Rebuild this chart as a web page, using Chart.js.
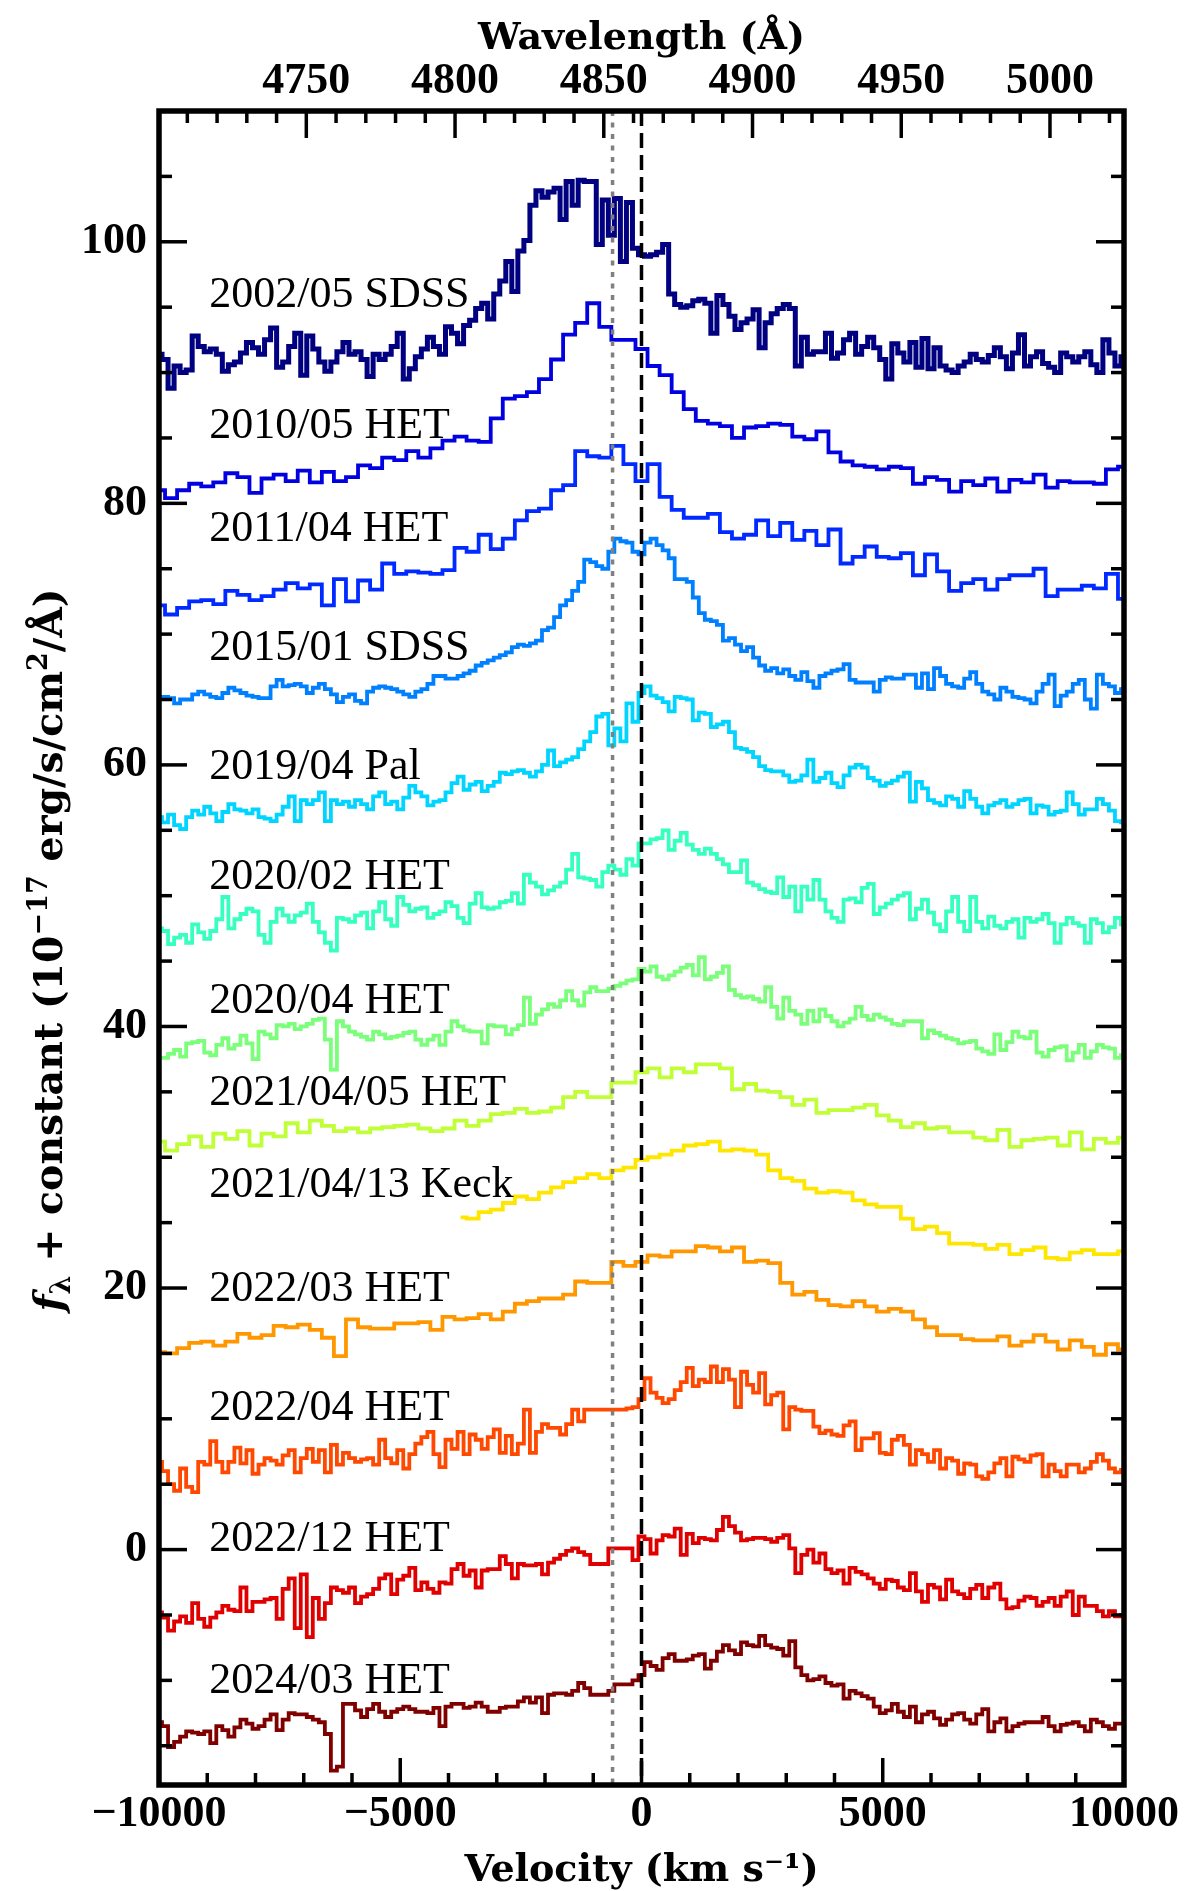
<!DOCTYPE html>
<html>
<head>
<meta charset="utf-8">
<script src="https://cdn.jsdelivr.net/npm/chart.js@4.4.0/dist/chart.umd.min.js"></script>
<style>
  html, body { margin: 0; padding: 0; background: #fff; }
  canvas { display: block; }
</style>
</head>
<body>
<canvas id="hbeta" width="1190" height="1891"></canvas>
<script>
// velocity bins (km/s): 250 km/s for the smoother spectra
const velocity = [
  -10000, -9750, -9500, -9250, -9000, -8750, -8500, -8250, -8000, -7750,
  -7500, -7250, -7000, -6750, -6500, -6250, -6000, -5750, -5500, -5250,
  -5000, -4750, -4500, -4250, -4000, -3750, -3500, -3250, -3000, -2750,
  -2500, -2250, -2000, -1750, -1500, -1250, -1000, -750, -500, -250,
  0, 250, 500, 750, 1000, 1250, 1500, 1750, 2000, 2250,
  2500, 2750, 3000, 3250, 3500, 3750, 4000, 4250, 4500, 4750,
  5000, 5250, 5500, 5750, 6000, 6250, 6500, 6750, 7000, 7250,
  7500, 7750, 8000, 8250, 8500, 8750, 9000, 9250, 9500, 9750, 10000
];
// 125 km/s bins for the noisier spectra
const velocityFine = [
  -10000, -9875, -9750, -9625, -9500, -9375, -9250, -9125, -9000, -8875,
  -8750, -8625, -8500, -8375, -8250, -8125, -8000, -7875, -7750, -7625,
  -7500, -7375, -7250, -7125, -7000, -6875, -6750, -6625, -6500, -6375,
  -6250, -6125, -6000, -5875, -5750, -5625, -5500, -5375, -5250, -5125,
  -5000, -4875, -4750, -4625, -4500, -4375, -4250, -4125, -4000, -3875,
  -3750, -3625, -3500, -3375, -3250, -3125, -3000, -2875, -2750, -2625,
  -2500, -2375, -2250, -2125, -2000, -1875, -1750, -1625, -1500, -1375,
  -1250, -1125, -1000, -875, -750, -625, -500, -375, -250, -125,
  0, 125, 250, 375, 500, 625, 750, 875, 1000, 1125,
  1250, 1375, 1500, 1625, 1750, 1875, 2000, 2125, 2250, 2375,
  2500, 2625, 2750, 2875, 3000, 3125, 3250, 3375, 3500, 3625,
  3750, 3875, 4000, 4125, 4250, 4375, 4500, 4625, 4750, 4875,
  5000, 5125, 5250, 5375, 5500, 5625, 5750, 5875, 6000, 6125,
  6250, 6375, 6500, 6625, 6750, 6875, 7000, 7125, 7250, 7375,
  7500, 7625, 7750, 7875, 8000, 8125, 8250, 8375, 8500, 8625,
  8750, 8875, 9000, 9125, 9250, 9375, 9500, 9625, 9750, 9875, 10000
];

const epochs = [
  '2002/05 SDSS', '2010/05 HET', '2011/04 HET', '2015/01 SDSS', '2019/04 Pal',
  '2020/02 HET', '2020/04 HET', '2021/04/05 HET', '2021/04/13 Keck',
  '2022/03 HET', '2022/04 HET', '2022/12 HET', '2024/03 HET'
];

// f_lambda + constant, one value per bin
const s2002_05 = [
  91.4, 91.0, 88.8, 90.5, 90.0, 90.2, 92.8, 92.0, 91.6, 91.8,
  91.4, 90.1, 90.6, 90.8, 91.5, 92.3, 91.9, 91.4, 92.5, 93.4,
  90.4, 90.8, 92.0, 93.0, 89.8, 92.8, 91.8, 90.8, 90.1, 90.8,
  91.6, 92.3, 91.4, 91.6, 91.0, 89.7, 91.4, 91.0, 91.4, 92.0,
  93.0, 89.5, 90.3, 91.2, 91.8, 92.7, 92.0, 91.4, 93.5, 93.0,
  92.2, 93.6, 94.0, 94.9, 95.3, 94.1, 96.0, 97.0, 98.5, 96.2,
  99.3, 100.1, 102.8, 103.9, 103.4, 103.8, 104.1, 101.7, 104.6, 102.8,
  104.7, 104.6, 104.6, 99.8, 103.2, 100.5, 103.3, 98.5, 103.0, 99.5,
  99.0, 98.9, 99.0, 99.2, 99.8, 96.0, 95.2, 95.0, 95.1, 95.5, 95.6,
  95.3, 93.0, 95.9, 95.2, 94.3, 93.3, 93.8, 94.1, 94.8, 91.9,
  93.8, 94.5, 94.9, 95.2, 94.9, 90.5, 92.7, 91.4, 91.6, 91.6,
  93.0, 91.1, 91.5, 92.5, 93.0, 91.4, 92.0, 92.7, 91.9, 91.0,
  89.5, 92.2, 91.5, 90.8, 92.3, 90.4, 92.6, 90.3, 91.9, 90.5,
  90.2, 90.0, 90.5, 90.8, 91.4, 91.0, 90.8, 91.3, 91.9, 91.2,
  90.3, 91.5, 92.9, 90.5, 91.2, 91.6, 90.7, 90.4, 90.0, 91.5,
  91.2, 90.8, 91.2, 91.6, 90.6, 90.0, 92.5, 91.5, 90.5, 91.2
];
const s2010_05 = [
  81.0, 80.4, 81.0, 81.5, 81.3, 81.6, 82.3, 82.0, 80.8, 81.9,
  82.2, 81.7, 82.5, 81.6, 82.4, 81.7, 82.0, 82.9, 82.7, 83.5,
  83.3, 84.0, 83.5, 84.2, 84.8, 85.1, 84.8, 84.7, 86.5, 88.0,
  88.2, 88.5, 89.5, 91.0, 92.9, 93.8, 95.3, 93.5, 92.5, 92.5,
  91.8, 90.5, 89.8, 88.5, 87.2, 86.3, 86.1, 85.9, 85.0, 85.8,
  85.9, 86.1, 86.0, 85.1, 84.9, 85.5, 83.9, 83.2, 82.9, 82.8,
  82.6, 82.8, 82.7, 81.5, 82.0, 81.8, 80.9, 81.7, 81.4, 81.9,
  80.9, 81.8, 81.6, 82.2, 81.2, 81.7, 81.6, 81.6, 81.5, 82.6, 82.8
];
const s2011_04 = [
  72.2, 71.5, 72.0, 72.5, 72.6, 72.3, 73.3, 73.0, 72.6, 72.9,
  73.4, 73.9, 73.5, 73.8, 72.2, 74.2, 72.5, 74.1, 73.4, 75.4,
  74.6, 74.8, 74.7, 74.6, 74.9, 76.6, 76.3, 77.6, 76.5, 77.3,
  78.7, 79.4, 79.6, 81.0, 81.4, 84.0, 83.6, 83.5, 84.4, 83.0,
  81.7, 83.0, 80.5, 79.5, 78.9, 78.9, 79.2, 77.8, 77.3, 77.6,
  78.7, 77.5, 78.5, 77.2, 77.9, 76.8, 78.0, 75.4, 75.9, 76.7,
  75.9, 75.8, 76.2, 74.5, 76.1, 74.8, 73.3, 73.9, 74.2, 73.4,
  74.2, 74.5, 74.5, 75.0, 72.9, 73.4, 73.4, 73.7, 73.5, 74.6, 72.7
];
const s2015_01 = [
  65.1, 65.2, 65.1, 64.7, 65.0, 65.0, 65.4, 65.6, 65.4, 65.2,
  65.1, 65.5, 65.9, 65.7, 65.5, 65.3, 65.2, 65.1, 65.1, 66.0,
  66.5, 66.0, 66.1, 66.2, 66.0, 65.5, 65.9, 66.2, 65.8, 65.4,
  64.8, 65.2, 65.4, 64.9, 64.7, 65.6, 65.9, 66.0, 65.9, 65.8,
  65.6, 65.4, 65.2, 65.6, 65.8, 66.2, 66.8, 66.8, 66.6, 66.6,
  66.8, 67.0, 67.2, 67.6, 67.8, 68.0, 68.2, 68.4, 68.6, 69.0,
  69.2, 69.1, 69.3, 69.5, 70.3, 70.5, 71.3, 72.2, 72.6, 73.3,
  74.0, 75.7, 75.5, 75.2, 75.0, 76.3, 77.3, 77.1, 77.0, 76.3,
  76.1, 77.0, 77.3, 76.8, 76.4, 75.8, 74.2, 74.2, 74.0, 72.8, 71.6,
  71.1, 71.0, 70.7, 69.5, 69.7, 69.2, 68.7, 69.0, 68.2, 67.6,
  67.2, 67.4, 67.0, 67.3, 66.8, 66.5, 67.1, 66.4, 65.9, 66.8,
  67.0, 67.2, 67.3, 67.7, 66.5, 66.3, 66.3, 66.3, 65.6, 66.5,
  66.7, 66.6, 66.6, 66.9, 66.9, 65.9, 67.0, 65.8, 67.4, 66.8,
  66.2, 66.0, 65.9, 66.6, 67.1, 66.2, 65.6, 65.4, 65.0, 65.9,
  65.6, 65.2, 65.1, 65.0, 64.7, 65.6, 66.2, 66.9, 64.5, 65.3,
  65.6, 66.2, 66.5, 65.0, 64.3, 66.9, 66.2, 66.0, 65.5, 65.8
];
const s2019_04 = [
  56.0, 55.6, 56.2, 55.4, 55.1, 56.0, 56.5, 56.2, 56.8, 56.3,
  55.7, 56.4, 57.0, 56.6, 56.5, 56.3, 56.6, 56.0, 55.9, 55.7,
  56.2, 56.8, 57.6, 55.7, 57.3, 57.0, 57.3, 57.9, 55.7, 57.3,
  57.0, 57.2, 56.8, 57.3, 57.0, 56.6, 57.6, 57.9, 57.0, 57.2,
  56.6, 57.5, 58.4, 57.9, 57.6, 56.9, 57.2, 57.3, 57.9, 58.6,
  59.1, 58.1, 58.5, 58.7, 58.0, 58.4, 58.7, 59.4, 59.3, 59.5,
  59.6, 59.4, 59.1, 59.5, 60.0, 61.1, 59.9, 60.2, 60.4, 60.6,
  61.2, 61.8, 62.5, 63.7, 63.9, 61.5, 62.8, 61.8, 64.7, 63.3,
  65.5, 66.0, 65.3, 65.1, 64.8, 64.1, 65.2, 65.1, 65.0, 63.4, 64.0,
  63.9, 62.9, 63.1, 63.3, 62.5, 61.3, 61.2, 61.0, 60.6, 59.9,
  59.6, 59.5, 59.5, 59.2, 58.7, 58.8, 59.2, 60.4, 58.7, 59.0,
  59.4, 58.6, 58.3, 59.2, 59.8, 60.0, 59.8, 59.0, 58.8, 58.4,
  58.6, 58.8, 59.1, 59.4, 57.2, 58.7, 58.2, 57.3, 57.1, 56.9,
  57.6, 57.4, 56.8, 58.0, 57.4, 56.8, 56.3, 56.9, 57.1, 57.3,
  56.8, 57.0, 57.3, 57.4, 56.3, 56.9, 56.8, 56.2, 56.4, 56.5,
  57.9, 57.0, 56.2, 56.6, 56.6, 57.4, 57.0, 56.5, 55.7, 55.6
];
const s2020_02 = [
  47.5, 47.3, 46.3, 46.8, 47.0, 46.4, 47.8, 47.2, 46.7, 47.3,
  48.2, 49.9, 47.5, 48.2, 48.6, 49.0, 48.8, 47.0, 46.4, 48.0,
  49.0, 48.5, 48.0, 48.5, 48.7, 49.4, 48.0, 47.2, 46.4, 45.8,
  48.3, 48.2, 48.0, 48.5, 48.7, 47.5, 48.8, 49.5, 48.2, 47.7,
  49.9, 49.3, 48.8, 49.0, 49.1, 48.3, 48.6, 48.8, 49.5, 49.2,
  48.3, 47.9, 49.4, 50.2, 49.1, 49.0, 49.1, 49.5, 49.6, 50.2,
  49.4, 51.6, 51.0, 50.7, 50.1, 50.4, 50.7, 51.0, 52.0, 53.2,
  51.4, 51.3, 51.2, 50.7, 51.8, 52.3, 52.0, 51.6, 52.8, 52.3,
  54.0, 54.0, 54.3, 54.4, 55.0, 53.5, 54.2, 54.8, 53.9, 53.5, 53.2,
  53.6, 53.2, 52.8, 52.4, 51.8, 51.8, 52.7, 51.0, 50.8, 50.5,
  50.3, 50.2, 51.4, 49.9, 50.7, 48.8, 50.7, 49.7, 51.2, 49.7,
  48.8, 48.3, 48.0, 49.7, 49.8, 49.5, 50.6, 50.9, 48.6, 49.1,
  49.4, 49.7, 50.0, 50.2, 48.2, 49.0, 49.7, 48.7, 47.8, 47.3,
  48.8, 49.9, 48.0, 47.3, 49.9, 48.0, 47.5, 48.4, 47.7, 47.5,
  48.0, 48.2, 46.8, 48.3, 48.0, 48.2, 48.6, 47.9, 46.4, 47.8,
  48.3, 47.9, 47.7, 46.4, 48.2, 47.9, 47.2, 47.6, 48.3, 47.8
];
const s2020_04 = [
  37.6, 37.6, 37.9, 38.2, 37.7, 38.7, 38.8, 38.9, 38.0, 37.8,
  38.6, 39.1, 38.3, 38.6, 39.3, 38.7, 37.5, 39.6, 39.4, 39.1,
  40.1, 40.0, 40.2, 39.8, 40.0, 40.2, 40.5, 40.6, 39.0, 36.7,
  40.4, 40.0, 39.6, 39.4, 39.2, 39.0, 39.6, 39.4, 39.1, 39.2,
  39.3, 39.5, 39.6, 39.0, 38.6, 39.0, 39.3, 38.6, 39.6, 40.4,
  40.0, 39.7, 39.6, 39.6, 38.7, 40.1, 40.0, 40.0, 39.4, 39.8,
  40.1, 42.2, 40.2, 40.9, 41.3, 41.7, 41.5, 42.0, 42.7, 42.0,
  41.6, 42.6, 43.0, 42.7, 42.7, 42.9, 43.1, 43.3, 43.5, 43.6,
  44.4, 44.2, 44.6, 43.8, 43.6, 43.9, 44.2, 44.5, 44.7, 43.9, 45.3,
  43.6, 43.8, 44.1, 44.6, 42.8, 42.4, 42.2, 42.3, 42.1, 41.9,
  43.0, 41.5, 40.6, 42.2, 41.2, 40.9, 40.2, 41.2, 40.4, 41.3,
  40.8, 40.4, 40.0, 40.3, 40.6, 41.5, 40.8, 40.5, 40.9, 40.7,
  40.5, 40.2, 40.1, 40.4, 40.4, 40.4, 39.1, 39.7, 39.5, 39.3,
  39.1, 39.0, 38.7, 38.8, 38.9, 38.3, 38.1, 37.9, 39.4, 38.2,
  38.8, 39.6, 39.2, 39.1, 39.6, 38.0, 37.7, 38.2, 38.4, 38.5,
  37.4, 38.0, 38.6, 37.6, 38.1, 38.6, 38.4, 38.3, 37.6, 37.8
];
const s2021_04_05 = [
  31.2, 30.5, 31.0, 31.6, 30.8, 31.8, 31.4, 32.0, 30.9, 31.8,
  31.6, 32.6, 31.9, 32.8, 32.4, 32.0, 32.2, 31.9, 32.2, 32.3,
  32.4, 32.5, 32.2, 32.0, 32.2, 32.8, 32.4, 32.8, 33.3, 33.4,
  33.7, 33.4, 33.5, 33.8, 34.6, 35.0, 34.6, 34.6, 35.7, 35.7,
  36.5, 36.8, 36.1, 36.8, 36.5, 37.1, 37.1, 36.8, 35.2, 35.6,
  35.1, 35.0, 34.6, 34.0, 34.4, 33.4, 33.6, 33.6, 33.8, 34.0,
  33.2, 32.8, 32.3, 32.6, 32.2, 32.3, 31.9, 31.9, 31.5, 31.3,
  32.1, 30.8, 31.3, 31.4, 31.5, 30.9, 31.9, 30.6, 31.4, 31.1, 31.5
];
// Keck spectrum only covers the red part of the window
const s2021_04_13 = [
  null, null, null, null, null, null, null, null, null, null,
  null, null, null, null, null, null, null, null, null, null,
  null, null, null, null, null, 25.4, 25.3, 25.8, 26.0, 26.5,
  27.0, 26.8, 27.3, 27.7, 28.1, 28.4, 28.7, 28.4, 29.0, 29.2,
  29.8, 30.0, 30.2, 30.5, 30.9, 31.0, 31.2, 30.5, 30.6, 30.5,
  30.2, 29.0, 28.4, 28.2, 27.6, 27.3, 27.4, 27.3, 26.7, 26.4,
  26.2, 26.2, 25.3, 24.5, 24.7, 24.2, 23.4, 23.4, 23.3, 23.0,
  23.3, 22.6, 22.9, 23.1, 22.3, 22.2, 22.7, 22.9, 22.6, 22.6, 22.8
];
const s2022_03 = [
  15.1, 15.0, 15.4, 15.8, 15.9, 15.6, 15.9, 16.5, 16.2, 16.4,
  17.1, 17.0, 17.2, 16.8, 16.2, 14.8, 17.6, 17.0, 16.9, 16.9,
  17.3, 17.3, 17.4, 16.8, 17.8, 17.6, 17.7, 18.0, 17.6, 18.2,
  18.8, 19.0, 19.2, 19.2, 19.5, 20.5, 20.4, 20.4, 22.0, 21.7,
  22.0, 22.5, 22.4, 22.8, 22.8, 23.2, 23.1, 22.8, 23.1, 22.0,
  22.1, 21.9, 20.4, 19.5, 19.7, 19.1, 18.7, 18.6, 19.0, 18.6,
  18.2, 18.4, 18.2, 17.6, 17.0, 16.4, 16.4, 16.1, 16.0, 16.0,
  16.3, 15.6, 15.9, 16.4, 15.9, 15.3, 16.0, 15.5, 14.9, 15.7, 15.3
];
const s2022_04 = [
  6.7, 6.0, 5.0, 4.5, 6.2, 4.8, 4.4, 6.7, 6.5, 8.3,
  6.7, 5.9, 6.7, 7.8, 6.6, 7.6, 5.8, 6.5, 7.0, 6.8,
  6.5, 7.2, 7.6, 5.9, 7.0, 7.7, 6.7, 7.6, 5.9, 8.0,
  6.5, 7.4, 7.0, 6.7, 6.9, 7.0, 6.5, 8.4, 7.0, 6.6,
  7.6, 6.2, 7.3, 8.1, 8.6, 9.0, 7.3, 6.3, 8.4, 7.7,
  9.0, 7.3, 8.8, 8.4, 7.7, 8.6, 9.2, 7.4, 8.7, 7.3,
  8.1, 10.7, 7.4, 9.0, 9.6, 9.3, 9.3, 8.8, 9.6, 10.7,
  9.8, 10.7, 10.7, 10.7, 10.7, 10.7, 10.7, 10.7, 10.8, 10.9,
  11.5, 13.1, 12.0, 11.6, 11.2, 11.5, 12.2, 12.8, 13.9, 12.5, 13.0,
  12.8, 14.0, 12.8, 13.8, 13.0, 10.9, 13.6, 12.6, 12.0, 13.5,
  11.1, 11.8, 12.0, 9.2, 10.9, 10.7, 10.6, 10.6, 9.4, 8.9,
  9.1, 8.8, 8.7, 9.5, 9.8, 7.6, 8.5, 8.5, 8.9, 7.4,
  7.3, 8.4, 8.7, 8.0, 6.5, 7.6, 7.3, 6.7, 7.6, 6.2,
  7.0, 6.8, 5.8, 6.6, 6.5, 5.6, 5.4, 5.9, 6.6, 7.0,
  5.6, 7.1, 6.9, 6.7, 7.2, 7.3, 5.6, 6.5, 6.0, 5.6,
  6.5, 6.5, 5.9, 6.2, 6.7, 7.3, 6.8, 6.2, 5.9, 6.1
];
const s2022_12 = [
  -4.8, -5.2, -6.2, -5.5, -5.1, -5.6, -4.1, -5.3, -5.9, -5.2,
  -4.8, -4.3, -4.6, -4.7, -2.9, -4.7, -4.0, -4.0, -3.8, -3.7,
  -5.3, -3.0, -2.2, -6.0, -1.9, -6.7, -3.7, -5.3, -4.1, -2.9,
  -3.1, -3.3, -2.9, -4.1, -3.6, -3.4, -3.0, -2.2, -1.9, -3.4,
  -2.3, -2.0, -1.4, -3.1, -2.5, -3.0, -3.3, -2.5, -2.6, -1.5,
  -1.1, -2.0, -1.6, -2.9, -1.6, -1.5, -1.5, -0.5, -1.1, -2.2,
  -1.1, -1.2, -1.2, -1.1, -1.9, -1.0, -0.7, -0.4, -0.1, 0.1,
  -0.2, -0.4, -1.1, -1.1, -1.1, 0.1, 0.1, 0.1, 0.1, -0.8,
  1.0, 0.8, -0.3, 0.7, 1.1, 1.0, 1.6, -0.4, 1.2, 0.5, 0.9,
  0.8, 0.7, 1.5, 2.5, 1.8, 1.3, 0.7, 0.8, 0.9, 0.9,
  0.8, 0.6, 0.9, 1.1, 0.1, -1.8, -0.4, 0.0, -1.0, -0.3,
  -1.5, -1.8, -1.6, -2.6, -1.4, -1.7, -1.9, -2.2, -2.6, -3.0,
  -2.3, -2.4, -2.9, -3.1, -1.8, -3.2, -4.0, -2.7, -2.9, -3.8,
  -2.3, -3.2, -3.4, -3.7, -3.0, -2.7, -3.7, -2.9, -2.6, -3.8,
  -4.5, -4.4, -3.9, -3.6, -3.7, -4.3, -4.0, -3.7, -4.3, -3.6,
  -3.2, -5.0, -3.6, -4.3, -4.3, -4.7, -5.1, -4.7, -5.1, -5.0
];
const s2024_03 = [
  -13.2, -13.5, -15.1, -14.7, -14.3, -13.9, -14.0, -14.1, -13.9, -14.8,
  -13.5, -13.8, -14.3, -13.6, -13.0, -13.3, -13.7, -13.5, -13.0, -12.6,
  -13.8, -13.0, -12.5, -12.6, -12.6, -12.8, -13.0, -13.2, -14.1, -16.9,
  -16.6, -11.8, -11.8, -12.3, -12.8, -12.2, -11.8, -12.4, -12.8, -12.4,
  -12.2, -12.0, -12.2, -12.4, -12.4, -12.5, -12.1, -13.5, -12.0, -11.8,
  -11.8, -12.1, -12.0, -11.7, -12.0, -12.4, -12.4, -12.1, -12.0, -12.0,
  -11.6, -11.3, -11.7, -11.3, -12.5, -11.1, -11.0, -11.0, -11.1, -10.8,
  -10.2, -10.6, -11.1, -11.1, -11.1, -10.8, -10.3, -10.3, -10.3, -10.0,
  -9.6, -8.6, -8.9, -9.2, -8.3, -8.0, -8.5, -8.5, -8.4, -8.1, -8.0,
  -9.1, -8.5, -7.8, -7.3, -7.7, -8.0, -7.1, -7.3, -7.4, -6.6,
  -7.3, -7.5, -7.6, -8.1, -7.0, -9.0, -9.6, -10.0, -9.9, -9.7,
  -10.2, -10.4, -10.3, -11.4, -10.8, -11.0, -11.2, -11.4, -12.0, -12.5,
  -12.3, -11.8, -12.4, -12.8, -12.0, -13.2, -12.6, -12.4, -12.9, -13.4,
  -13.0, -12.6, -12.5, -13.0, -13.3, -12.6, -12.2, -13.9, -13.2, -12.9,
  -13.9, -13.5, -13.3, -13.2, -13.2, -13.2, -12.8, -13.5, -13.9, -13.4,
  -13.3, -13.2, -13.5, -13.9, -13.0, -13.2, -13.5, -13.7, -13.3, -13.3
];

// where each epoch name sits on the flux axis
const labelLevels = [96.1, 86.1, 78.2, 69.1, 60.0, 51.6, 42.1, 35.1, 28.0, 20.1, 11.0, 1.0, -9.9];

const series = [s2002_05, s2010_05, s2011_04, s2015_01, s2019_04, s2020_02, s2020_04,
  s2021_04_05, s2021_04_13, s2022_03, s2022_04, s2022_12, s2024_03];
const grids = [velocityFine, velocity, velocity, velocityFine, velocityFine, velocityFine, velocityFine,
  velocity, velocity, velocity, velocityFine, velocityFine, velocityFine];

// jet colormap sampled at 13 steps
const colours = ['#000080', '#0000e0', '#002aff', '#0080ff', '#00d4ff', '#37ffc0', '#7bff7b',
  '#c0ff37', '#ffe600', '#ff9700', '#ff4800', '#e00000', '#800000'];

const C_KMS = 299792.458;
const HBETA = 4862.68;
const lamMin = HBETA * (1 - 10000 / C_KMS);
const lamMax = HBETA * (1 + 10000 / C_KMS);

const minus = v => (v < 0 ? '\u2212' + Math.abs(v) : String(v));
const tickFont = { family: 'Liberation Serif', weight: 'bold', size: 44 };
const titleFont = { family: 'DejaVu Serif', weight: 'bold', size: 38 };

const datasets = series.map((vals, i) => ({
  label: epochs[i],
  data: vals.map((f, j) => ({ x: grids[i][j], y: f })),
  borderColor: colours[i],
  borderWidth: i === 0 ? 5 : 3.8,
  stepped: 'middle',
  pointRadius: 0,
  fill: false,
  spanGaps: false
}));

// frame, inward ticks, reference lines, epoch names and y title
const decorations = {
  id: 'decorations',
  afterDatasetsDraw(chart) {
    const { ctx, chartArea: a, scales } = chart;
    const xs = scales.x, xt = scales.x2, ys = scales.y;
    ctx.save();

    // H-beta rest (dashed) and offset line (dotted)
    ctx.lineWidth = 3.5;
    ctx.strokeStyle = '#808080';
    ctx.setLineDash([5, 6.5]);
    let px = xs.getPixelForValue(-600);
    ctx.beginPath(); ctx.moveTo(px, a.top); ctx.lineTo(px, a.bottom); ctx.stroke();
    ctx.strokeStyle = '#000';
    ctx.setLineDash([15, 7]);
    px = xs.getPixelForValue(0);
    ctx.beginPath(); ctx.moveTo(px, a.top); ctx.lineTo(px, a.bottom); ctx.stroke();
    ctx.setLineDash([]);

    // ticks
    ctx.strokeStyle = '#000';
    ctx.lineWidth = 3.5;
    const vline = (p, y0, y1) => { ctx.beginPath(); ctx.moveTo(p, y0); ctx.lineTo(p, y1); ctx.stroke(); };
    const hline = (p, x0, x1) => { ctx.beginPath(); ctx.moveTo(x0, p); ctx.lineTo(x1, p); ctx.stroke(); };
    for (let v = -10000; v <= 10000; v += 1000) {
      const len = v % 5000 === 0 ? 27 : 12;
      vline(xs.getPixelForValue(v), a.bottom, a.bottom - len);
    }
    for (let l = 4710; l <= 5020; l += 10) {
      const len = l % 50 === 0 ? 27 : 12;
      vline(xt.getPixelForValue(l), a.top, a.top + len);
    }
    for (let f = -15; f <= 110; f += 5) {
      const len = f % 20 === 0 ? 28 : 13;
      const p = ys.getPixelForValue(f);
      hline(p, a.left, a.left + len);
      hline(p, a.right, a.right - len);
    }

    // frame
    ctx.lineWidth = 5.5;
    ctx.strokeRect(a.left, a.top, a.right - a.left, a.bottom - a.top);

    // epoch names
    ctx.fillStyle = '#000';
    ctx.font = '44px "Liberation Serif"';
    ctx.textAlign = 'left';
    ctx.textBaseline = 'alphabetic';
    epochs.forEach((name, i) => {
      ctx.fillText(name, xs.getPixelForValue(-8960), ys.getPixelForValue(labelLevels[i]) + 14);
    });

    // y-axis title with sub/superscripts
    const big = 'bold 39.5px "DejaVu Serif"';
    const small = 'bold 27px "DejaVu Serif"';
    const parts = [
      { t: 'f', font: 'italic bold 39.5px "DejaVu Serif"', dy: 0 },
      { t: '\u03bb', font: small, dy: 8 },
      { t: ' + constant (10', font: big, dy: 0 },
      { t: '\u221217', font: small, dy: -15 },
      { t: ' erg/s/cm', font: big, dy: 0 },
      { t: '2', font: small, dy: -15 },
      { t: '/\u00c5)', font: big, dy: 0 }
    ];
    let total = 0;
    parts.forEach(p => { ctx.font = p.font; p.w = ctx.measureText(p.t).width; total += p.w; });
    ctx.translate(48, (a.top + a.bottom) / 2 + 2);
    ctx.rotate(-Math.PI / 2);
    let cx = -total / 2;
    parts.forEach(p => {
      ctx.font = p.font;
      ctx.fillText(p.t, cx, 14 + p.dy);
      cx += p.w;
    });
    ctx.restore();
  }
};

new Chart(document.getElementById('hbeta').getContext('2d'), {
  type: 'line',
  data: { datasets },
  options: {
    responsive: false,
    animation: false,
    devicePixelRatio: 1,
    layout: { padding: { left: 0, right: 66, top: 0, bottom: 0 } },
    plugins: { legend: { display: false }, tooltip: { enabled: false } },
    scales: {
      x: {
        type: 'linear', position: 'bottom', min: -10000, max: 10000,
        grid: { display: false, drawTicks: false }, border: { display: false },
        ticks: { stepSize: 5000, padding: 3, color: '#000', font: tickFont, maxRotation: 0, autoSkip: false, callback: minus },
        title: { display: true, text: 'Velocity (km s\u207b\u00b9)', color: '#000', font: titleFont, padding: { top: 0, bottom: -3 } },
        afterFit(s) { s.height = 106; }
      },
      x2: {
        type: 'linear', position: 'top', min: lamMin, max: lamMax,
        grid: { display: false, drawTicks: false }, border: { display: false },
        ticks: { stepSize: 50, includeBounds: false, padding: 3, color: '#000', font: tickFont, maxRotation: 0, autoSkip: false, callback: v => String(v) },
        title: { display: true, text: 'Wavelength (\u00c5)', color: '#000', font: titleFont, padding: { top: 16, bottom: 0 } },
        afterFit(s) { s.height = 111; }
      },
      y: {
        type: 'linear', position: 'left', min: -18, max: 110,
        grid: { display: false, drawTicks: false }, border: { display: false },
        ticks: { stepSize: 20, includeBounds: false, padding: 12, color: '#000', font: tickFont, autoSkip: false, callback: minus },
        afterFit(s) { s.width = 159; }
      }
    }
  },
  plugins: [decorations]
});
</script>
</body>
</html>
